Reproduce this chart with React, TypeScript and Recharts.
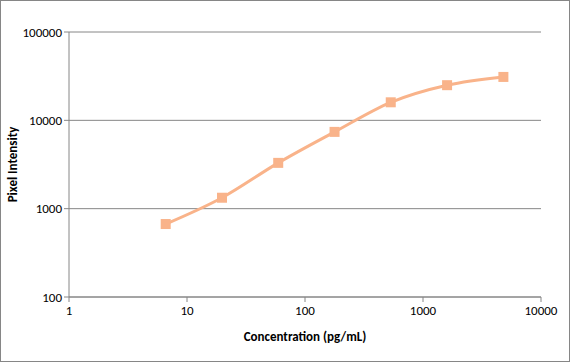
import {
  LineChart,
  Line,
  XAxis,
  YAxis,
  CartesianGrid,
} from "recharts";

// standard curve, dilution series
const concentrations = [6.6, 19.8, 59.3, 178, 533, 1600, 4800];
const intensities = [670, 1330, 3300, 7400, 16000, 25000, 31000];

const xTicks = [1, 10, 100, 1000, 10000];
const yTicks = [100, 1000, 10000, 100000];

const data = concentrations.map((c, i) => ({ conc: c, intensity: intensities[i] }));

const axisColor = "#868686";
const seriesColor = "#F9B38A";
const font = "Carlito, 'Liberation Sans', Arial, sans-serif";

function SquareDot(props: any) {
  const { cx, cy } = props;
  if (cx == null || cy == null) return null;
  return <rect x={cx - 5} y={cy - 5} width={10} height={10} fill={seriesColor} />;
}

function App() {
  return (
    <div
      style={{
        position: "absolute",
        left: 0,
        top: 0,
        width: 570,
        height: 362,
        background: "#fff",
        border: `1px solid ${axisColor}`,
        boxSizing: "border-box",
      }}
    >
      <LineChart
        width={568}
        height={360}
        data={data}
        margin={{ top: 31, right: 28, bottom: 0, left: 0 }}
      >
        <CartesianGrid vertical={false} stroke={axisColor} strokeWidth={1} />
        <XAxis
          dataKey="conc"
          type="number"
          scale="log"
          domain={[1, 10000]}
          ticks={xTicks}
          allowDataOverflow
          height={64}
          stroke={axisColor}
          tickSize={5}
          tick={{ fill: "#000", fontSize: 13, fontFamily: font }}
          tickMargin={4}
          label={{
            value: "Concentration (pg/mL)",
            position: "insideBottom",
            offset: 20,
            style: { fill: "#000", fontSize: 13, fontWeight: "bold", fontFamily: font },
          }}
        />
        <YAxis
          type="number"
          scale="log"
          domain={[100, 100000]}
          ticks={yTicks}
          allowDataOverflow
          width={68}
          stroke={axisColor}
          tickSize={5}
          tick={{ fill: "#000", fontSize: 13, fontFamily: font }}
          tickMargin={2}
          label={{
            value: "Pixel Intensity",
            angle: -90,
            position: "insideLeft",
            offset: 11,
            style: {
              fill: "#000",
              fontSize: 13,
              fontWeight: "bold",
              fontFamily: font,
              textAnchor: "middle",
            },
          }}
        />
        <Line
          dataKey="intensity"
          type="monotone"
          stroke={seriesColor}
          strokeWidth={3}
          dot={<SquareDot />}
          activeDot={false}
          isAnimationActive={false}
        />
      </LineChart>
    </div>
  );
}

export default App;
